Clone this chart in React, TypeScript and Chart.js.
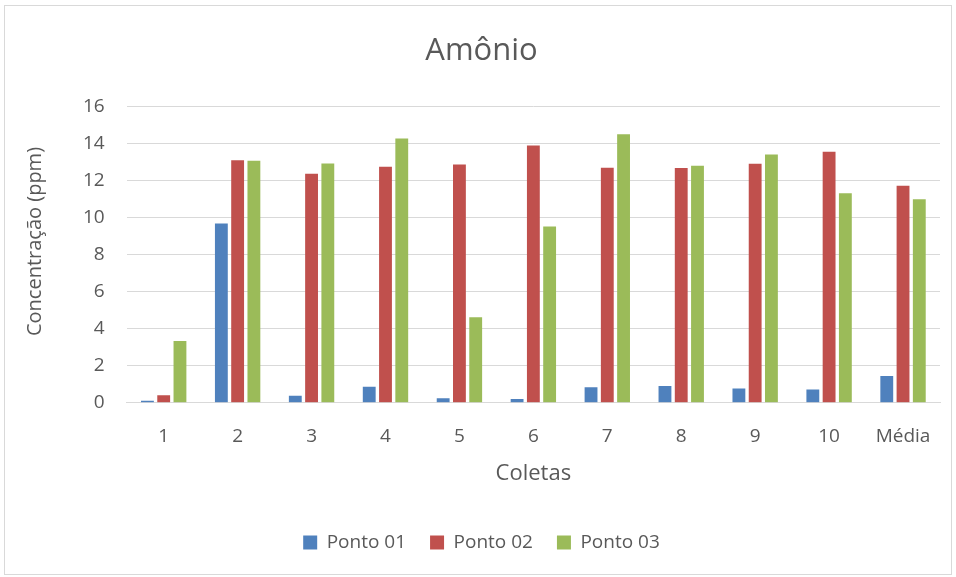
import React, { useEffect, useRef } from "react";
import { Chart, registerables } from "chart.js";

Chart.register(...registerables);

const categories = ["1", "2", "3", "4", "5", "6", "7", "8", "9", "10", "Média"];
const ponto01 = [0.11, 9.67, 0.38, 0.86, 0.25, 0.2, 0.84, 0.9, 0.77, 0.72, 1.45];
const ponto02 = [0.41, 13.08, 12.36, 12.74, 12.86, 13.88, 12.68, 12.66, 12.9, 13.54, 11.71];
const ponto03 = [3.34, 13.06, 12.91, 14.26, 4.61, 9.51, 14.49, 12.79, 13.4, 11.3, 10.98];

const FONT = "'Open Sans', 'Liberation Sans', sans-serif";
const TEXT = "#595959";

export default function App() {
  const ref = useRef<HTMLCanvasElement | null>(null);
  useEffect(() => {
    document.body.style.margin = "0";
    const chart = new Chart(ref.current!, {
      type: "bar",
      data: {
        labels: categories,
        datasets: [
          { label: "Ponto 01", data: ponto01, backgroundColor: "#4f81bd" },
          { label: "Ponto 02", data: ponto02, backgroundColor: "#c0504d" },
          { label: "Ponto 03", data: ponto03, backgroundColor: "#9bbb59" },
        ],
      },
      options: {
        animation: false,
        responsive: false,
        maintainAspectRatio: false,
        datasets: { bar: { categoryPercentage: 0.66, barPercentage: 0.79 } },
        layout: { padding: { left: 23, right: 16, top: 33, bottom: 15 } },
        plugins: {
          title: {
            display: true,
            text: "Amônio",
            color: TEXT,
            font: { family: FONT, size: 31, weight: "normal" },
            padding: { top: 0, bottom: 36 },
          },
          legend: {
            position: "bottom",
            labels: {
              color: TEXT,
              font: { family: FONT, size: 19 },
              boxWidth: 14,
              boxHeight: 14,
              padding: 24,
            },
          },
          tooltip: { enabled: false },
        },
        scales: {
          x: {
            grid: { display: false, drawTicks: false },
            border: { display: true, color: "#d9d9d9" },
            ticks: { color: TEXT, font: { family: FONT, size: 19 }, padding: 22 },
            title: {
              display: true,
              text: "Coletas",
              color: TEXT,
              font: { family: FONT, size: 22 },
              padding: { top: -9, bottom: 22 },
            },
          },
          y: {
            min: 0,
            max: 16,
            ticks: { stepSize: 2, color: TEXT, font: { family: FONT, size: 19 }, padding: 22 },
            grid: { color: "#d9d9d9", drawTicks: false },
            border: { display: false },
            title: {
              display: true,
              text: "     Concentração (ppm)",
              color: TEXT,
              font: { family: FONT, size: 20 },
              padding: { top: 0, bottom: 14 },
            },
          },
        },
      },
    });
    return () => chart.destroy();
  }, []);
  return (
    <div style={{ position: "fixed", left: 0, top: 0, width: 956, height: 577, background: "#fff" }}>
      <div
        style={{
          position: "absolute",
          left: 4,
          top: 5,
          width: 948,
          height: 570,
          border: "1px solid #d9d9d9",
          boxSizing: "border-box",
        }}
      />
      <canvas ref={ref} width={956} height={577} style={{ position: "absolute", left: 0, top: 0 }} />
    </div>
  );
}
